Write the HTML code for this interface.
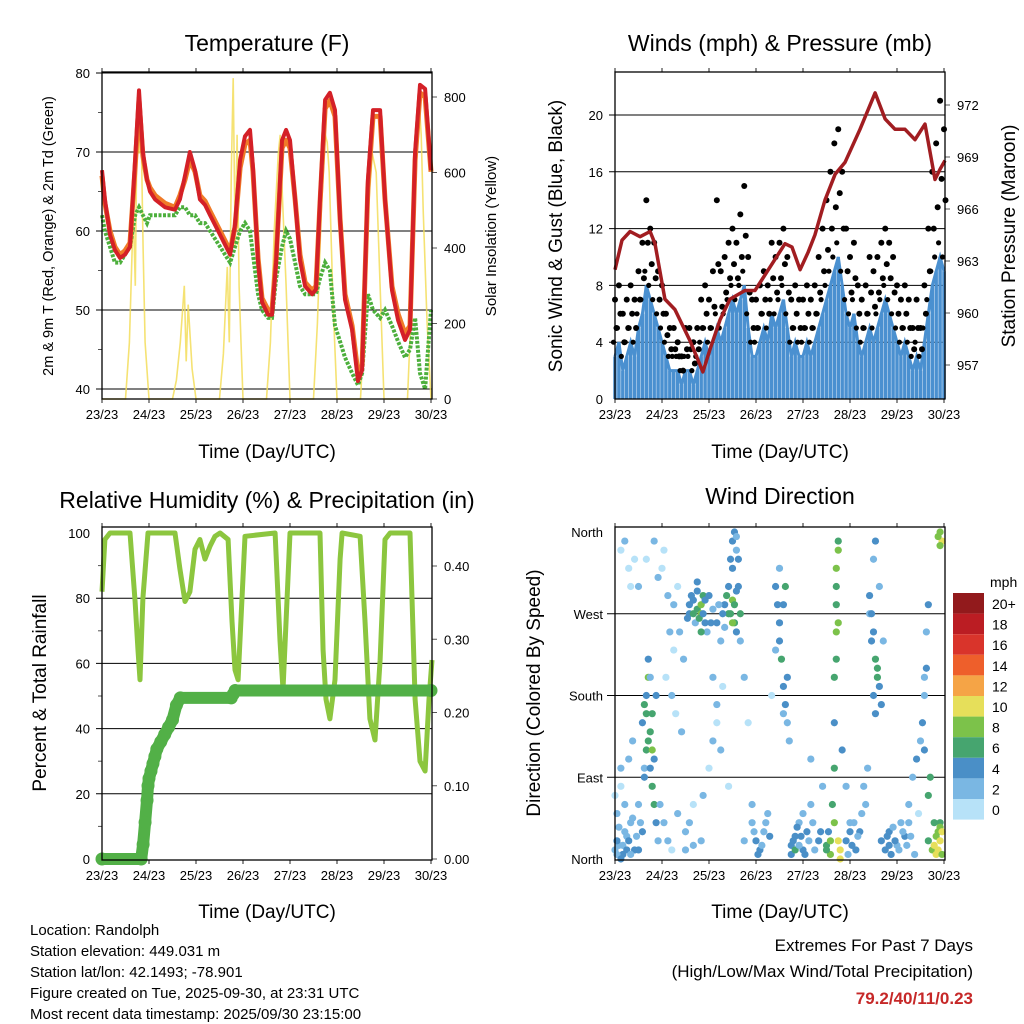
<!DOCTYPE html>
<html><head><meta charset="utf-8"><style>
html,body{margin:0;padding:0;background:#fff}
svg{display:block;font-family:"Liberation Sans",sans-serif}
</style></head><body>
<svg id="c" width="1024" height="1024" viewBox="0 0 1024 1024"></svg>
<script>
// ---------- DATA ----------
const dayLabels=["23/23","24/23","25/23","26/23","27/23","28/23","29/23","30/23"];
const tempHours=[0,1.5,4.1,6.6,9.2,11.7,14.3,16.9,18.9,20.9,23,24.5,27.1,32.2,37.3,39.8,42.4,44.9,47.5,50,52.6,55.2,60.3,65.4,67.9,70.5,73,75.6,77.1,79.7,81.7,84.8,86.8,88.9,91.9,94,96,98.6,101.1,103.7,107.3,109.3,111.3,113.9,116.4,119,121.6,124.1,127.7,130.7,132.8,135.8,138.4,142,144.5,148.1,151.2,154.7,157.3,159.9,162.4,165,168];
const temp2m=[67.7,64,59.5,57.6,56.6,57,58,69,77.8,70,66.5,65,64,63,62.7,64,67,70,67.7,64,63.3,62,59.5,57,60.8,69,72,72.8,68,56,51,49.4,49.4,56,71.5,72.8,71.5,64,56.3,53,52,52.6,64,76.6,77.5,75.3,61.4,51.3,47.5,41,42.4,66.5,75.3,75.3,64,52.5,48.7,46.2,47.5,70,78.5,78,67.7];
const temp9m=[67,63.5,60,58,57,57.5,58.5,68,76.5,69.5,66.5,65.5,64.5,63.5,63,64.5,66.5,69,67.5,64.5,63.8,62.5,60,57.5,60.5,68,71,71.5,67.5,56.5,51.5,50,50,56.5,70.5,71.5,70.5,64,57,53.5,52.5,53,63.5,75.5,76.5,74.5,61.5,52,48,42,43,65.5,74.5,74.5,64,53,49.5,47,48,69,77.5,77,67.5];
const dew2m=[62,60,58,56,56,57,58,62,63,62,61,62,62,62,62,63,63,62,62,61,61,60,58,56,58,60,61,60,57,52,50,49,49,54,58,60,59,56,53,52,52,52,54,56,55,48,46,44,42,40.5,42,52,50,49,50,48,46,44,45,49,42,40,50];
const solarHours=[0,12,14,16,17,18,19,20,21,22,24,36,38,40,42,43,44,46,48,60,62,64,65,66,67,68,69,70,71,72,84,86,88,90,91,92,94,96,108,110,112,114,115,116,118,120,132,134,136,138,140,142,144,156,158,160,162,163,164,166,168];
const solarVals=[0,0,150,500,300,800,650,700,400,150,0,0,50,150,300,100,250,80,0,0,120,350,150,600,850,400,700,300,150,0,0,150,450,650,700,550,300,0,0,200,500,700,680,600,250,0,0,200,500,650,600,300,0,0,250,550,780,700,500,200,0];
// winds (2-hourly from 23/23)
const windVals=[3,4,2,3,4,3,5,6,8,7,6,5,4,3,2,2,2,1,2,2,1,2,3,4,3,4,5,4,5,6,7,6,7,8,5,3,3,4,5,4,6,5,6,7,5,3,4,3,3,4,3,4,5,6,7,8,9,10,8,6,5,6,4,3,4,5,4,5,6,7,6,5,4,3,4,3,2,3,2,4,6,8,9,10,9];
const gustVals=[7,8,6,7,8,7,9,11,14,12,11,9,8,6,5,5,4,3,5,5,4,5,7,8,7,9,14,9,10,11,12,11,13,15,10,7,7,8,9,8,11,10,11,12,10,7,8,7,7,8,7,8,10,12,14,16,18,19,16,12,10,11,8,7,8,10,9,10,11,12,11,10,8,7,8,7,5,7,5,8,12,16,18,21,19];
const presHours=[0,3.6,7.7,12.8,17.9,20.4,25.5,30.6,38.3,44.9,48.5,53.6,58.7,66.4,71.5,76.6,81.7,86.8,90.4,94.5,98.6,102.1,107.2,112.4,117.5,125.1,132.8,137.9,143,148.1,153.2,158.3,163.4,166,168.5];
const presVals=[962.5,964.2,964.7,964.4,964.7,964,960.8,960.2,958.4,956.6,957.9,959.6,960.8,961.3,961.3,962.2,963.1,964,963.8,962.5,963.5,964.5,966.5,968,968.7,970.6,972.7,971.2,970.6,970.6,970,970.9,967.7,968.3,968.8];
const rhHours=[0,1.5,4.1,14.3,16.9,18.4,19.4,20.9,23.5,37.3,39.8,42.4,44.9,47.5,50,52.6,55.2,57.7,60.3,64.4,66.4,67.9,69.5,71.5,73,88.4,90.9,92.4,94.5,96,111.3,112.9,114.4,116.4,119,121.6,122.6,131.8,134.3,136.8,139.4,142,144.5,147.1,157.3,159.9,162.4,165,167,168.5];
const rhVals=[82,98,100,100,79,64,55,80,100,100,89,79,82,95,98,92,96,99,100,98,73,58,55,80,99,100,67,52,80,100,100,64,49,43,55,92,100,99,73,43,36.5,61,98,100,100,49,30,27,49,61];
const precipHours=[0,20,21,22,23,23.5,24,25,26,27,28,30,32,34,36,38,40,66,67,68,168];
const precipVals=[0,0,0.02,0.05,0.08,0.1,0.11,0.12,0.13,0.14,0.15,0.16,0.17,0.18,0.19,0.21,0.22,0.22,0.225,0.23,0.23];
const dirPoints=[[2,15,3],[4,5,4],[6,25,3],[8,40,2],[10,10,5],[12,60,2],[3,80,1],[14,30,4],[16,120,6],[18,140,7],[19,160,6],[20,110,5],[21,180,4],[17,200,8],[15,100,3],[10,330,1],[5,350,2],[8,300,1],[22,310,2],[25,340,1],[28,250,2],[30,280,3],[32,300,1],[35,220,2],[38,270,4],[40,285,5],[42,275,7],[44,270,9],[45,290,6],[46,260,5],[36,30,2],[40,60,1],[44,20,3],[50,200,2],[52,150,1],[54,120,2],[56,280,5],[58,270,6],[60,285,8],[61,260,7],[62,295,5],[64,270,6],[59,330,4],[60,350,5],[62,340,3],[66,20,3],[70,40,2],[74,10,4],[76,30,3],[78,50,2],[80,180,1],[82,230,2],[84,260,4],[86,280,5],[87,300,6],[88,200,5],[86,160,3],[90,15,4],[92,25,5],[94,40,3],[96,10,4],[98,30,5],[100,60,3],[104,20,5],[108,15,6],[110,5,8],[112,100,6],[112,150,5],[112,200,6],[113,250,8],[113,300,7],[114,340,8],[114,20,10],[115,0,11],[113,220,7],[116,120,4],[118,80,2],[120,40,3],[125,30,4],[128,60,3],[130,270,3],[131,240,4],[132,180,5],[133,160,4],[134,210,6],[135,300,3],[136,20,4],[140,30,5],[144,15,3],[148,25,4],[150,40,3],[152,90,2],[154,110,4],[156,130,3],[158,200,2],[160,20,6],[162,10,9],[164,5,10],[165,30,8],[166,40,7],[167,350,10],[166,360,9],
[0,10,3],[1,20,4],[1,5,2],[2,35,3],[3,0,5],[4,15,2],[5,30,3],[6,10,5],[7,20,4],[8,5,3],[9,45,2],[11,25,3],[12,10,4],[13,40,2],[1,50,2],[0,70,1],[5,60,2],[3,100,2],[7,110,3],[9,130,2],
[14,150,5],[15,170,6],[16,160,7],[17,130,6],[18,100,5],[19,80,7],[20,60,6],[21,40,4],[22,20,3],[16,180,4],[18,200,3],[17,220,5],[15,90,4],[19,120,8],
[3,340,1],[7,320,1],[12,300,2],[16,330,1],[20,350,2],[24,320,1],[27,290,2],[30,230,1],[33,250,2],[26,200,1],[29,180,2],[31,160,1],[34,140,2],[23,60,2],[25,40,3],[27,20,2],[29,10,1],[32,50,2],
[37,265,4],[38,280,5],[39,290,4],[40,270,6],[41,260,3],[42,295,5],[43,265,6],[44,280,8],[45,270,5],[46,285,4],[47,250,3],[48,290,5],[49,260,4],[50,275,3],[42,305,4],[44,250,6],
[52,260,4],[53,280,3],[54,240,2],[55,270,4],[56,255,3],[57,290,6],[58,300,5],[59,270,7],[60,260,8],[61,280,6],[62,250,4],[63,300,5],[64,240,3],[60,320,4],[61,360,4],[62,355,3],[63,330,4],
[36,10,3],[38,40,2],[40,15,2],[45,70,2],[48,100,1],[50,130,2],[52,170,2],[55,190,1],[58,80,1],[66,200,2],[68,150,1],[70,60,3],[72,20,4],[73,5,5],[75,15,3],[77,40,2],[79,25,4],[71,30,3],
[82,300,4],[83,280,5],[84,240,4],[85,220,6],[86,190,5],[87,170,4],[88,150,3],[89,130,2],[84,320,3],
[90,5,4],[91,20,5],[92,10,6],[93,35,4],[94,15,3],[95,25,5],[96,50,3],[97,5,4],[99,20,3],[101,40,2],[102,10,3],[105,30,4],[106,80,2],[100,110,2],
[108,10,6],[109,30,5],[110,20,8],[111,60,6],[112,40,9],[113,320,8],[113,280,7],[114,260,9],[114,350,7],[115,10,10],
[118,20,4],[119,5,3],[120,30,5],[121,15,4],[122,40,3],[123,10,4],[124,25,2],[126,50,3],[127,80,2],[129,100,2],
[130,290,4],[131,270,5],[132,250,4],[133,220,6],[134,200,7],[135,190,5],[136,170,4],[137,240,3],[132,330,3],[133,350,4],
[138,10,4],[139,25,4],[140,15,5],[141,5,4],[142,35,3],[143,20,4],[145,10,3],[146,40,2],[147,30,3],[149,15,2],[151,25,3],[153,5,2],[150,60,2],[155,50,1],
[157,150,4],[158,180,3],[159,210,4],[159,250,3],[160,280,4],[158,120,5],[160,70,6],[161,90,7],
[163,15,10],[164,25,9],[165,10,10],[166,20,11],[167,5,9],[166,35,8],[167,30,10],[163,40,7],[165,355,9],[166,345,8]];
const speedLevels=["20+","18","16","14","12","10","8","6","4","2","0"];
const speedColors=["#921a1c","#bb1d23","#d9342b","#ee5f2b","#f5a446","#e6df5a","#7cc24a","#46a56f","#4a8fc7","#7ab7e3","#b7e2f8"];

// ---------- HELPERS ----------
const NS="http://www.w3.org/2000/svg";
const svg=document.getElementById('c');
function el(tag,attrs,parent,text){const e=document.createElementNS(NS,tag);for(const k in attrs)e.setAttribute(k,attrs[k]);if(text!==undefined)e.textContent=text;(parent||svg).appendChild(e);return e;}
function grp(name){const g=el('g',{});return g;}
function lin(d0,d1,r0,r1){return v=>r0+(v-d0)*(r1-r0)/(d1-d0);}
function pts(xs,ys,fx,fy){return xs.map((x,i)=>fx(x).toFixed(1)+','+fy(ys[i]).toFixed(1)).join(' ');}
function colorFor(s){let i=Math.min(10,Math.floor(s/2));return speedColors[10-i];}

function frame(g,x0,x1,y0,y1,title,xTitleY,titleY){
  const xs=lin(0,168,x0,x1-1);
  const t=el('text',{x:(x0+x1)/2,y:titleY,'font-size':23,'text-anchor':'middle'},g,title);
  
  dayLabels.forEach((d,i)=>{const x=xs(i*24);
    el('line',{x1:x,x2:x,y1:y0,y2:y0-4,stroke:'#555','stroke-width':1.3},g);
    el('line',{x1:x,x2:x,y1:y1,y2:y1+4,stroke:'#555','stroke-width':1.3},g);
    const tl=el('text',{x:x,y:y1+20,'font-size':13,'text-anchor':'middle'},g,d);
    });
  const xt=el('text',{x:(x0+x1)/2,y:xTitleY,'font-size':19,'text-anchor':'middle'},g,'Time (Day/UTC)');
  
  return xs;
}
function box(g,x0,x1,y0,y1){el('rect',{x:x0,y:y0,width:x1-x0,height:y1-y0,fill:'none',stroke:'#000','stroke-width':1.3},g);}
function vtext(g,x,y,s,size,name){const t=el('text',{x:x,y:y,'font-size':size,'text-anchor':'middle',transform:`rotate(-90 ${x} ${y})`},g,s);}

// ---------- PANEL 1: TEMPERATURE ----------
(function(){
  const g=grp('temperature-panel');
  const x0=102,x1=432,y0=72,y1=399;
  const xs=frame(g,x0,x1,y0,y1,'Temperature (F)',458,51);
  const ty=lin(40,80,389,73), sy=lin(0,800,399,97);
  [40,50,60,70,80].forEach(v=>{el('line',{x1:x0-6,x2:x1,y1:ty(v),y2:ty(v),stroke:'#000','stroke-width':1},g);
    el('text',{x:x0-12,y:ty(v)+5,'font-size':13,'text-anchor':'end'},g,v);});
  [45,55,65,75].forEach(v=>el('line',{x1:x0-4,x2:x0,y1:ty(v),y2:ty(v),stroke:'#555'},g));
  [0,200,400,600,800].forEach(v=>{el('line',{x1:x1,x2:x1+5,y1:sy(v),y2:sy(v),stroke:'#555'},g);
    el('text',{x:x1+12,y:sy(v)+5,'font-size':13},g,v);});
  const s=el('polyline',{points:pts(solarHours,solarVals,xs,sy),fill:'none',stroke:'#f3dd5a','stroke-width':1.6,opacity:0.85},g);
  
  const dw=el('polyline',{points:pts(tempHours,dew2m,xs,ty),fill:'none',stroke:'#4caf3c','stroke-width':4,'stroke-dasharray':'3 1.5'},g);
  
  const o=el('polyline',{points:pts(tempHours,temp9m,xs,ty),fill:'none',stroke:'#f07a28','stroke-width':5,'stroke-linejoin':'round'},g);
  
  const r=el('polyline',{points:pts(tempHours,temp2m,xs,ty),fill:'none',stroke:'#d42027','stroke-width':4,'stroke-linejoin':'round'},g);
  
  box(g,x0,x1,y0,y1);
  vtext(g,53,236,'2m & 9m T (Red, Orange) & 2m Td (Green)',14.5,'left-y-axis-title');
  vtext(g,496,236,'Solar Insolation (Yellow)',15,'right-y-axis-title');
})();

// ---------- PANEL 2: WINDS ----------
(function(){
  const g=grp('winds-panel');
  const x0=615,x1=945,y0=72,y1=399;
  const xs=frame(g,x0,x1,y0,y1,'Winds (mph) & Pressure (mb)',458,51);
  const wy=lin(0,20,399,115), py=lin(957,972,365,105);
  [0,4,8,12,16,20].forEach(v=>{if(v>0)el('line',{x1:x0-6,x2:x1,y1:wy(v),y2:wy(v),stroke:'#000'},g);
    el('text',{x:x0-12,y:wy(v)+5,'font-size':13,'text-anchor':'end'},g,v);});
  [957,960,963,966,969,972].forEach(v=>{el('line',{x1:x1,x2:x1+5,y1:py(v),y2:py(v),stroke:'#555'},g);
    el('text',{x:x1+12,y:py(v)+5,'font-size':13},g,v);});
  const wh=windVals.map((v,i)=>i*2);
  windVals.forEach((v,i)=>{const b=el('line',{x1:xs(wh[i]),x2:xs(wh[i]),y1:wy(0),y2:wy(v),stroke:'#4a90d0','stroke-width':3.5},g);
    });
  el('polyline',{points:pts(wh,windVals,xs,wy),fill:'none',stroke:'#4a90d0','stroke-width':3},g);
  gustVals.forEach((v,i)=>{
    const c=el('circle',{cx:xs(wh[i]),cy:wy(v),r:3,fill:'#000'},g);
    
    const c2=el('circle',{cx:xs(wh[i])+1.5,cy:wy((v+windVals[i])/2),r:3,fill:'#000'},g);
    
    el('circle',{cx:xs(wh[i])-1.5,cy:wy(windVals[i]+1),r:2.6,fill:'#000'},g);
  });
  const p=el('polyline',{points:pts(presHours,presVals,xs,py),fill:'none',stroke:'#a11d21','stroke-width':3.5,'stroke-linejoin':'round'},g);
  
  box(g,x0,x1,y0,y1);
  vtext(g,562,236,'Sonic Wind & Gust (Blue, Black)',19,'left-y-axis-title');
  vtext(g,1015,236,'Station Pressure (Maroon)',19,'right-y-axis-title');
})();

// ---------- PANEL 3: RH & PRECIP ----------
(function(){
  const g=grp('humidity-precip-panel');
  const x0=102,x1=432,y0=527,y1=860;
  const xs=frame(g,x0,x1,y0,y1,'Relative Humidity (%) & Precipitation (in)',918,508);
  const ry=lin(0,100,859,533), qy=lin(0,0.4,859,566);
  [0,20,40,60,80,100].forEach(v=>{if(v>0&&v<100)el('line',{x1:x0-6,x2:x1,y1:ry(v),y2:ry(v),stroke:'#000'},g);
    el('text',{x:x0-12,y:ry(v)+5,'font-size':13,'text-anchor':'end'},g,v);});
  [10,30,50,70,90].forEach(v=>el('line',{x1:x0-4,x2:x0,y1:ry(v),y2:ry(v),stroke:'#555'},g));
  ["0.00","0.10","0.20","0.30","0.40"].forEach(v=>{el('line',{x1:x1,x2:x1+5,y1:qy(+v),y2:qy(+v),stroke:'#555'},g);
    el('text',{x:x1+12,y:qy(+v)+5,'font-size':13},g,v);});
  const rh=el('polyline',{points:pts(rhHours,rhVals,xs,ry),fill:'none',stroke:'#8cc63f','stroke-width':5,'stroke-linejoin':'round'},g);
  
  const pr=el('polyline',{points:pts(precipHours,precipVals,xs,qy),fill:'none',stroke:'#52b047','stroke-width':12,'stroke-linecap':'round','stroke-linejoin':'round'},g);
  
  precipHours.forEach((h,i)=>el('circle',{cx:xs(h),cy:qy(precipVals[i]),r:6.5,fill:'#52b047'},g));
  box(g,x0,x1,y0,y1);
  vtext(g,46,693,'Percent & Total Rainfall',19,'left-y-axis-title');
})();

// ---------- PANEL 4: WIND DIRECTION ----------
(function(){
  const g=grp('wind-direction-panel');
  const x0=615,x1=945,y0=527,y1=860;
  const xs=frame(g,x0,x1,y0,y1,'Wind Direction',918,504);
  const dy=lin(0,360,859,532);
  const names=["North","East","South","West","North"];
  names.forEach((n,i)=>{const v=i*90;if(i>0&&i<4)el('line',{x1:x0-8,x2:x1,y1:dy(v),y2:dy(v),stroke:'#000'},g);
    el('text',{x:x0-12,y:dy(v)+5,'font-size':13,'text-anchor':'end'},g,n);});
  dirPoints.forEach(p=>{const c=el('circle',{cx:xs(p[0]),cy:dy(p[1]),r:3.6,fill:colorFor(p[2])},g);
    });
  box(g,x0,x1,y0,y1);
  vtext(g,540,693,'Direction (Colored By Speed)',19,'left-y-axis-title');
  const lg=grp('speed-colorbar');
  el('text',{x:990,y:587,'font-size':14},lg,'mph');
  speedLevels.forEach((l,i)=>{const y=593+i*20.6;
    el('rect',{x:953,y:y,width:31,height:20.6,fill:speedColors[i]},lg);
    const t=el('text',{x:992,y:y+16,'font-size':14},lg,l);
    });
})();

// ---------- FOOTER ----------
(function(){
  const g=grp('station-info');
  ["Location: Randolph","Station elevation: 449.031 m","Station lat/lon: 42.1493; -78.901","Figure created on Tue, 2025-09-30, at 23:31 UTC","Most recent data timestamp: 2025/09/30 23:15:00"]
   .forEach((s,i)=>el('text',{x:30,y:935+i*21,'font-size':15},g,s));
  const e=grp('extremes-summary');
  el('text',{x:973,y:951,'font-size':17,'text-anchor':'end'},e,'Extremes For Past 7 Days');
  el('text',{x:973,y:977,'font-size':17,'text-anchor':'end'},e,'(High/Low/Max Wind/Total Precipitation)');
  el('text',{x:973,y:1004,'font-size':17,'text-anchor':'end','font-weight':'bold',fill:'#c62828'},e,'79.2/40/11/0.23');
})();
</script>
</body></html>
